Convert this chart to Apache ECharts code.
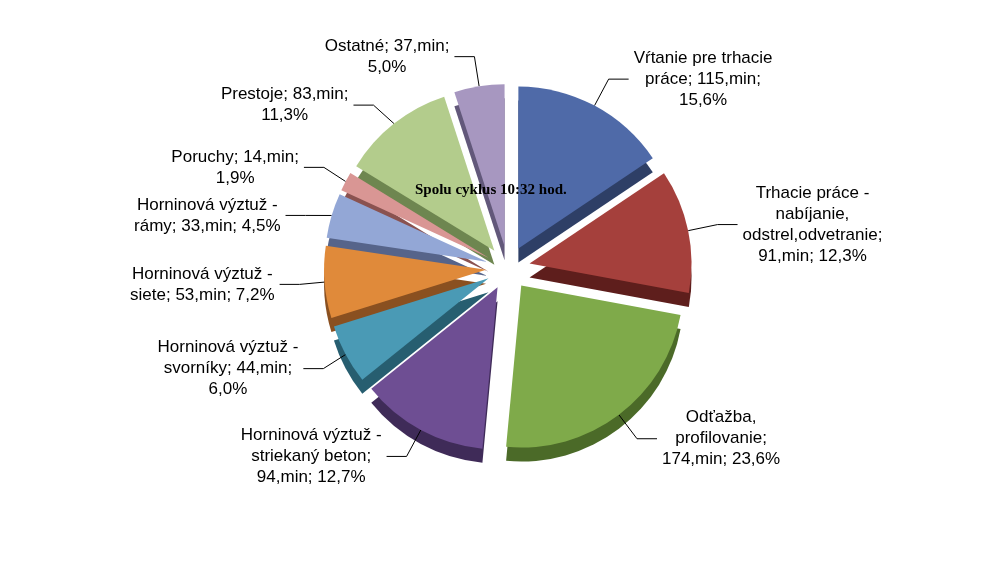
<!DOCTYPE html>
<html><head><meta charset="utf-8">
<script src="https://cdn.jsdelivr.net/npm/echarts@6/dist/echarts.min.js"></script>
<style>html,body{margin:0;background:#fff}#c{width:984px;height:561px}</style>
</head><body><div id="c"></div>
<script>
const categories = ["Vŕtanie pre trhacie\npráce","Trhacie práce -\nnabíjanie,\nodstrel,odvetranie;","Odťažba,\nprofilovanie;","Horninová výztuž -\nstriekaný beton;","Horninová výztuž -\nsvorníky;","Horninová výztuž -\nsiete;","Horninová výztuž -\nrámy;","Poruchy;","Prestoje;","Ostatné;"];
const values = [115,91,174,94,44,53,33,14,83,37];
const percents = ["15,6%","12,3%","23,6%","12,7%","6,0%","7,2%","4,5%","1,9%","11,3%","5,0%"];
const labelTexts = [
 "Vŕtanie pre trhacie\npráce; 115,min;\n15,6%",
 "Trhacie práce -\nnabíjanie,\nodstrel,odvetranie;\n91,min; 12,3%",
 "Odťažba,\nprofilovanie;\n174,min; 23,6%",
 "Horninová výztuž -\nstriekaný beton;\n94,min; 12,7%",
 "Horninová výztuž -\nsvorníky; 44,min;\n6,0%",
 "Horninová výztuž -\nsiete; 53,min; 7,2%",
 "Horninová výztuž -\nrámy; 33,min; 4,5%",
 "Poruchy; 14,min;\n1,9%",
 "Prestoje; 83,min;\n11,3%",
 "Ostatné; 37,min;\n5,0%"];
const colors = ["#4F6AA8","#A5403C","#7FAA4A","#6E4E93","#4A9AB5","#E08A3A","#93A7D6","#D99694","#B3CC8C","#A797C0"];
const darks = ["#2E3F66","#5E1E1C","#4B6A28","#3F2B58","#275E70","#8A5020","#56648A","#8A5250","#6E8650","#62587A"];
const chart = echarts.init(document.getElementById('c'));
const mk = (cols, withLabel) => values.map((v,i)=>({value:v,name:categories[i],selected:true,
  itemStyle:{color:cols[i]},
  label: withLabel ? {formatter:'{t|'+labelTexts[i].split('\n').join('}\n{t|')+'}'} : {show:false},
  labelLine: withLabel ? {} : {show:false}}));
chart.setOption({
  animation:false,
  title:{text:"Spolu cyklus 10:32 hod.",left:410,top:178,textStyle:{fontFamily:"Liberation Serif",fontSize:15,fontWeight:"bold",color:"#000"}},
  series:[
   {type:'pie',center:[508,282],radius:[0,162],startAngle:90,selectedMode:'multiple',selectedOffset:22,silent:true,z:1,
    data:mk(darks,false)},
   {type:'pie',center:[508,268],radius:[0,162],startAngle:90,selectedMode:'multiple',selectedOffset:22,silent:true,z:2,
    label:{show:true,color:"#000",fontFamily:"Liberation Sans",fontSize:17,lineHeight:21,
      rich:{t:{align:'center',fontFamily:"Liberation Sans",fontSize:17,lineHeight:21,color:"#000"}}},
    labelLine:{show:true,length:30,length2:20,lineStyle:{color:"#000",width:1}},
    data:mk(colors,true)}
  ]
});
</script></body></html>
